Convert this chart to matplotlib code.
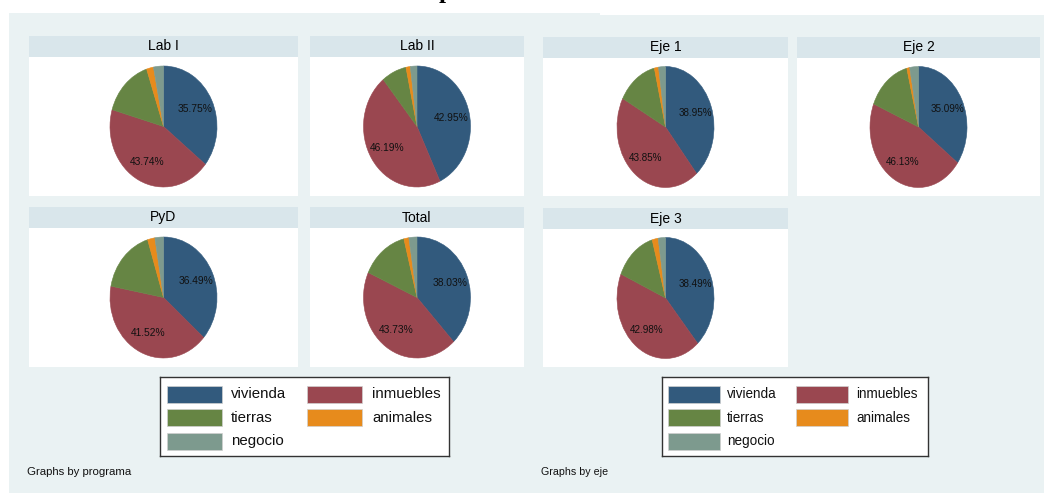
import matplotlib
matplotlib.use("Agg")
import matplotlib.pyplot as plt
from matplotlib.patches import Rectangle
import numpy as np

# ---- data -------------------------------------------------------------
categories = ["vivienda", "inmuebles", "tierras", "animales", "negocio"]
colors = ["#325a7d", "#9a4750", "#668544", "#e78b1c", "#7d9a8e"]

programa_titles = ["Lab I", "Lab II", "PyD", "Total"]
vivienda_prog = [35.75, 42.95, 36.49, 38.03]
inmuebles_prog = [43.74, 46.19, 41.52, 43.73]
tierras_prog = [15.40, 7.55, 17.20, 14.30]
animales_prog = [2.10, 1.30, 2.20, 1.50]
negocio_prog = [3.01, 2.01, 2.59, 2.44]

eje_titles = ["Eje 1", "Eje 2", "Eje 3"]
vivienda_eje = [38.95, 35.09, 38.49]
inmuebles_eje = [43.85, 46.13, 42.98]
tierras_eje = [13.50, 14.90, 14.10]
animales_eje = [1.40, 0.95, 2.00]
negocio_eje = [2.30, 2.93, 2.43]

# ---- figure -----------------------------------------------------------
W, H = 1046, 493
plt.rcParams["font.family"] = ["Liberation Sans", "DejaVu Sans"]
fig = plt.figure(figsize=(W / 100, H / 100), dpi=100)
fig.patch.set_facecolor("white")

GRAPH_BG = "#eaf2f3"
STRIP_BG = "#d9e6eb"


def px_axes(x0, y0, x1, y1, zorder=1):
    ax = fig.add_axes([x0 / W, 1 - y1 / H, (x1 - x0) / W, (y1 - y0) / H])
    ax.set_zorder(zorder)
    return ax


# graph regions
bg = px_axes(0, 0, W, H, zorder=0)
bg.set_xlim(0, W)
bg.set_ylim(H, 0)
bg.axis("off")
bg.add_patch(Rectangle((9, 13), 591, H - 13, facecolor=GRAPH_BG, edgecolor="none"))
bg.add_patch(Rectangle((600, 15), 444, H - 15, facecolor=GRAPH_BG, edgecolor="none"))

# document heading sitting above the graphs
fig.text(446 / W, 1 + 2 / H, "p", family="Liberation Serif", fontweight="bold",
         fontsize=18, ha="center", va="baseline")


def draw_panel(title, values, x0, x1, y_strip, y_plot_end, rx, ry=60.5, fs=1.0):
    strip_end = y_strip + 21
    sax = px_axes(x0, y_strip, x1, strip_end, zorder=2)
    sax.set_facecolor(STRIP_BG)
    sax.set_xticks([])
    sax.set_yticks([])
    for s in sax.spines.values():
        s.set_visible(False)
    sax.text(0.5, 0.5, title, ha="center", va="center", fontsize=10,
             transform=sax.transAxes)

    pax = px_axes(x0, strip_end, x1, y_plot_end, zorder=2)
    wedges, _ = pax.pie(values, colors=colors, startangle=90, counterclock=False,
                        wedgeprops=dict(linewidth=0.4))
    for wdg, col in zip(wedges, colors):
        wdg.set_edgecolor(col)
    pax.set_aspect("auto")
    pax.set_frame_on(True)
    pax.set_facecolor("white")
    for s in pax.spines.values():
        s.set_visible(False)
    pax.set_xticks([])
    pax.set_yticks([])
    w = x1 - x0
    h = y_plot_end - strip_end
    pax.set_xlim(-w / 2 / rx, w / 2 / rx)
    pax.set_ylim(-h / 2 / ry, h / 2 / ry)

    # percentage labels for the two largest categories
    total = sum(values)
    start = 90.0
    for i, v in enumerate(values):
        span = 360.0 * v / total
        mid = np.deg2rad(start - span / 2)
        if i < 2:
            r = 0.66
            pax.text(r * np.cos(mid), r * np.sin(mid), f"{v:.2f}%",
                     ha="center", va="center", fontsize=7.4 * fs, color="#111111")
        start -= span


def draw_legend(x0, y0, x1, y1, key_x, text_x, key_w, fs=1.0):
    lax = px_axes(x0, y0, x1, y1, zorder=3)
    lax.set_xlim(x0, x1)
    lax.set_ylim(y1, y0)
    lax.set_facecolor("white")
    lax.set_xticks([])
    lax.set_yticks([])
    for s in lax.spines.values():
        s.set_color("#333333")
        s.set_linewidth(1.0)
    row_y = [394, 417.5, 441]
    for i, (cat, col) in enumerate(zip(categories, colors)):
        r, c = divmod(i, 2)
        lax.add_patch(Rectangle((key_x[c], row_y[r] - 8.5), key_w, 17,
                                facecolor=col, edgecolor="#d0d0d0", linewidth=0.5))
        lax.text(text_x[c], row_y[r], cat, ha="left", va="center",
                 fontsize=10.8 * fs, color="#111111")


# ---- graphs by programa ----------------------------------------------
cols_l = [(29, 298), (310, 524)]
rows = [(36, 196), (207, 367)]
series_prog = list(zip(vivienda_prog, inmuebles_prog, tierras_prog,
                       animales_prog, negocio_prog))
for k, (title, vals) in enumerate(zip(programa_titles, series_prog)):
    r, c = divmod(k, 2)
    draw_panel(title, vals, cols_l[c][0], cols_l[c][1], rows[r][0], rows[r][1], rx=53.5)

draw_legend(160, 377, 449, 456, key_x=[167, 307], text_x=[231, 372], key_w=55)
fig.text(27 / W, 1 - 472 / H, "Graphs by programa", fontsize=8.2,
         ha="left", va="center", color="#111111")

# ---- graphs by eje (narrower layout, slightly smaller type) -------------
cols_r = [(543, 788), (797, 1040)]
series_eje = list(zip(vivienda_eje, inmuebles_eje, tierras_eje,
                      animales_eje, negocio_eje))
for k, (title, vals) in enumerate(zip(eje_titles, series_eje)):
    r, c = divmod(k, 2)
    draw_panel(title, vals, cols_r[c][0], cols_r[c][1], rows[r][0] + 1, rows[r][1],
               rx=48.5, fs=0.96)

draw_legend(662, 377, 928, 456, key_x=[668, 796], text_x=[727, 856], key_w=52, fs=0.9)
fig.text(541 / W, 1 - 472 / H, "Graphs by eje", fontsize=7.7,
         ha="left", va="center", color="#111111")

fig.savefig("out.png", dpi=100, facecolor="white")
